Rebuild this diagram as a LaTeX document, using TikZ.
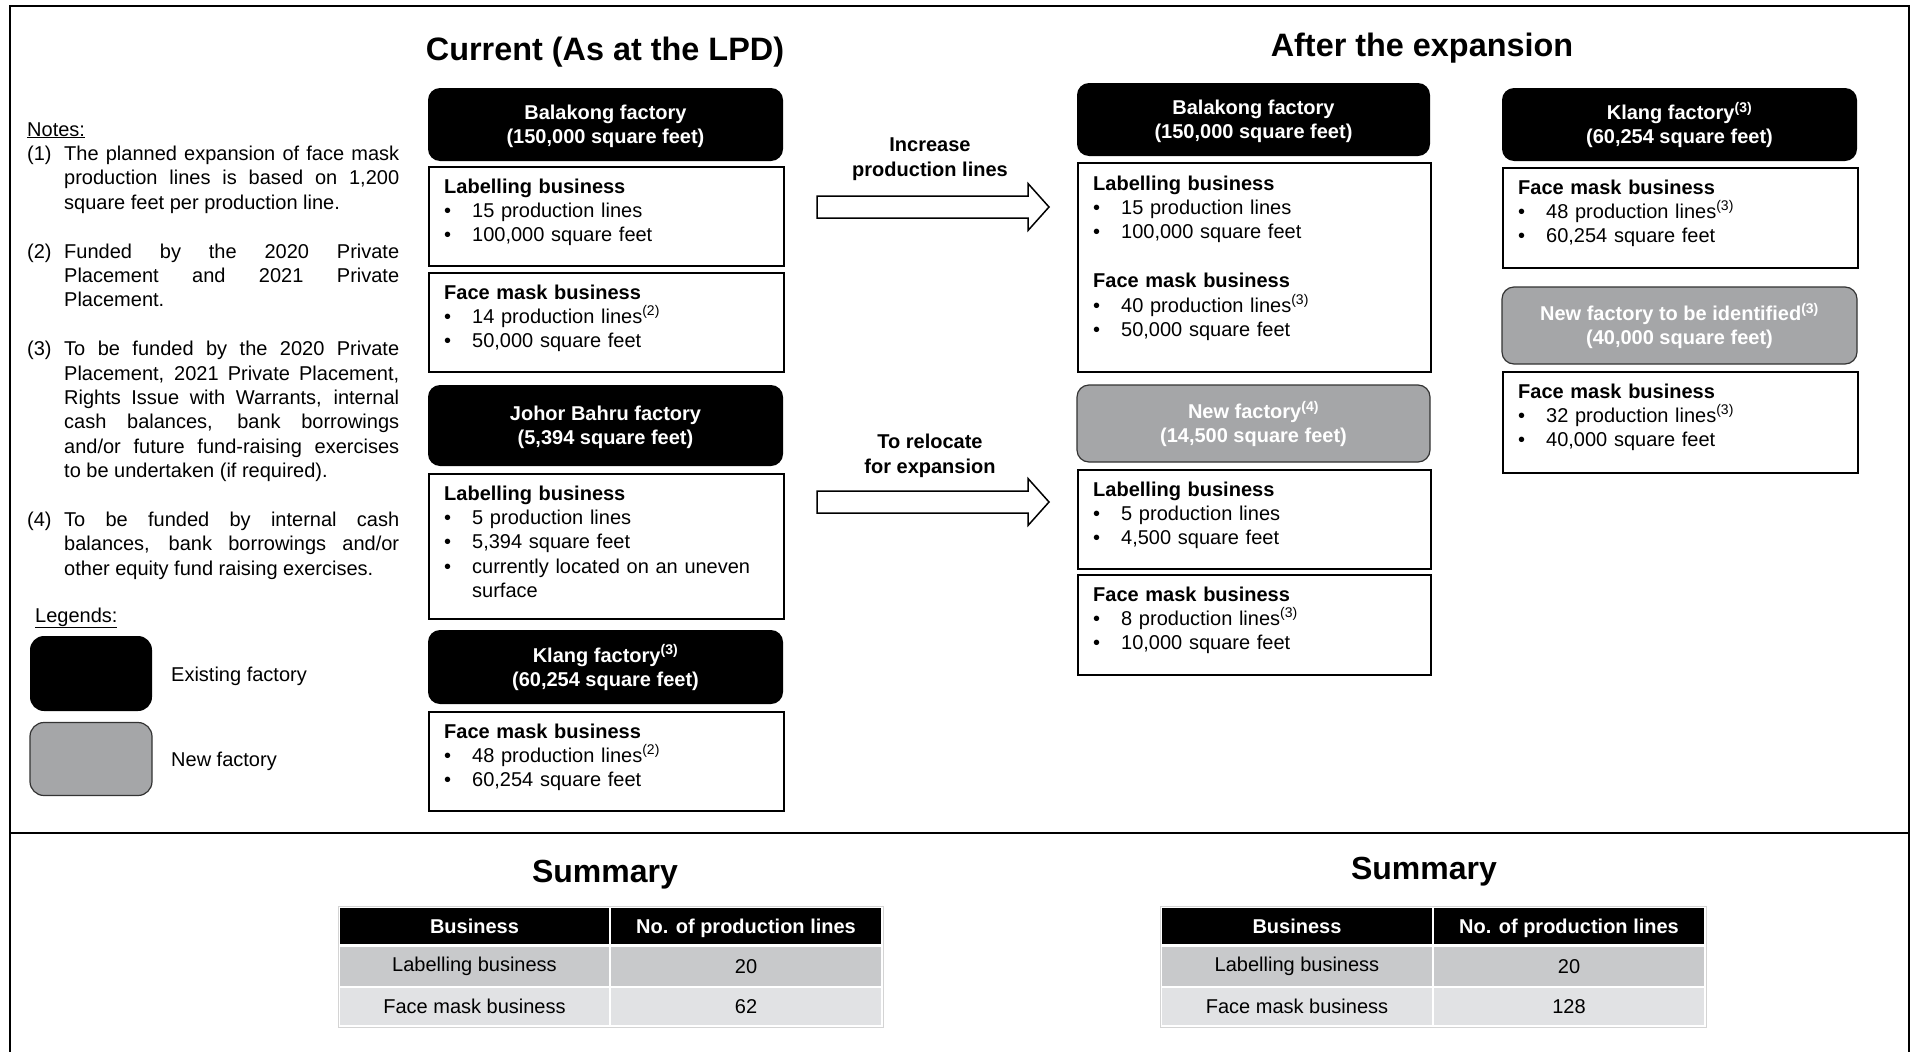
\documentclass[tikz,border=0pt]{standalone}
\usepackage{fontspec}
\setmainfont{Liberation Sans}
\usetikzlibrary{calc}
\definecolor{newgray}{HTML}{A5A6A8}
\definecolor{rowA}{HTML}{C8C9CB}
\definecolor{rowB}{HTML}{E1E2E4}
\definecolor{tblborder}{HTML}{D4D4D4}
\newcommand{\bl}{\makebox[28pt][l]{\textbullet}}
\newcommand{\sups}[1]{\textsuperscript{(#1)}}
\begin{document}
\begin{tikzpicture}[x=1pt,y=-1pt,
  txt/.style={font=\fontsize{20}{24.4}\selectfont, inner sep=0pt},
  hdr/.style={font=\fontsize{20}{24.4}\selectfont\bfseries, inner sep=0pt, fill=black, text=white, rounded corners=12pt, align=center, text height=39.4pt, text depth=0.5pt},
  newhdr/.style={hdr, fill=newgray, draw=black!80, line width=1.2pt},
  bodybox/.style={draw=black, line width=1.8pt, anchor=north west, inner sep=0pt, fill=white},
  bodytext/.style={txt, anchor=base west, text width=330pt, align=left},
  notetext/.style={txt, anchor=base west, text width=335pt, align=justify},
  title/.style={font=\fontsize{32.4}{40}\selectfont\bfseries, inner sep=0pt},
  stitle/.style={font=\fontsize{32}{38}\selectfont\bfseries, inner sep=0pt},
  lbl/.style={font=\fontsize{20}{24.4}\selectfont\bfseries, inner sep=0pt, align=center},
  blockarrow/.style={draw=black, line width=1.5pt, fill=white, line join=miter},
  legbox/.style={rounded corners=14pt, minimum width=122pt, inner sep=0pt},
  cell/.style={font=\fontsize{20}{24.4}\selectfont, inner sep=0pt},
  hcell/.style={cell, font=\fontsize{20}{24.4}\selectfont\bfseries, fill=black, text=white, minimum height=36pt, text height=16pt, text depth=1.6pt},
  acell/.style={cell, fill=rowA, minimum height=39pt},
  bcell/.style={cell, fill=rowB, minimum height=37pt}
]
\useasboundingbox (0,0) rectangle (1912,1052);
\fill[white] (0,0) rectangle (1912,1052);

% frame
\draw[line width=2.5pt] (10,1052) -- (10,6) -- (1909,6) -- (1909,1052);
\draw[line width=1.5pt] (10,833) -- (1909,833);

% titles
\node[title] (t1) at (605,52.5) {Current (As at the LPD)};
\node[title] (t2) at (1422,48.5) {After the expansion};

% notes
\node[txt, anchor=base west] (notes) at (27,136) {\underline{Notes:}};
\node[txt, anchor=base west] (n1l) at (27,160.4) {(1)};
\node[notetext] (n1) at (64,160.4) {The planned expansion of face mask\linebreak production lines is based on 1,200\linebreak square feet per production line.};
\node[txt, anchor=base west] (n2l) at (27,258) {(2)};
\node[notetext] (n2) at (64,258) {Funded by the 2020 Private\linebreak Placement and 2021 Private\linebreak Placement.};
\node[txt, anchor=base west] (n3l) at (27,355.6) {(3)};
\node[notetext] (n3) at (64,355.6) {To be funded by the 2020 Private\linebreak Placement, 2021 Private Placement,\linebreak Rights Issue with Warrants, internal\linebreak cash balances, bank borrowings\linebreak and/or future fund-raising exercises\linebreak to be undertaken (if required).};
\node[txt, anchor=base west] (n4l) at (27,526.4) {(4)};
\node[notetext] (n4) at (64,526.4) {To be funded by internal cash\linebreak balances, bank borrowings and/or\linebreak other equity fund raising exercises.};

% legends
\node[txt, anchor=base west] (leg) at (35,622) {\underline{Legends:}};
\node[legbox, fill=black, minimum height=75pt] (lg1) at (91,673.5) {};
\node[legbox, fill=newgray, draw=black!80, line width=1.2pt, minimum height=73pt] (lg2) at (91,759) {};
\node[txt, anchor=west] (lg1t) at (171,676) {Existing factory};
\node[txt, anchor=west] (lg2t) at (171,761) {New factory};

% current column
\node[hdr, minimum width=355pt, minimum height=73pt] (hA) at (605.5,124.5) {Balakong factory\\(150,000 square feet)};
\node[bodybox, minimum width=355pt, minimum height=99pt] (bA1) at (428,166) {};
\node[bodytext] (bA1t) at ($(bA1.north west)+(16,27)$) {\textbf{Labelling business}\\\bl 15 production lines\\\bl 100,000 square feet};
\node[bodybox, minimum width=355pt, minimum height=99pt] (bA2) at (428,272) {};
\node[bodytext] (bA2t) at ($(bA2.north west)+(16,27)$) {\textbf{Face mask business}\\\bl 14 production lines\sups{2}\\\bl 50,000 square feet};

\node[hdr, minimum width=355pt, minimum height=81pt] (hB) at (605.5,425.5) {Johor Bahru factory\\(5,394 square feet)};
\node[bodybox, minimum width=355pt, minimum height=145pt] (bB1) at (428,473) {};
\node[bodytext] (bB1t) at ($(bB1.north west)+(16,27)$) {\textbf{Labelling business}\\\bl 5 production lines\\\bl 5,394 square feet\\\bl currently located on an uneven\\\hspace*{28pt}surface};

\node[hdr, minimum width=355pt, minimum height=74pt] (hC) at (605.5,667) {Klang factory\sups{3}\\(60,254 square feet)};
\node[bodybox, minimum width=355pt, minimum height=99pt] (bC1) at (428,711) {};
\node[bodytext] (bC1t) at ($(bC1.north west)+(16,27)$) {\textbf{Face mask business}\\\bl 48 production lines\sups{2}\\\bl 60,254 square feet};

% after column (middle)
\node[hdr, minimum width=353pt, minimum height=73pt] (hD) at (1253.5,119.5) {Balakong factory\\(150,000 square feet)};
\node[bodybox, minimum width=353pt, minimum height=209pt] (bD1) at (1077,162) {};
\node[bodytext] (bD1t) at ($(bD1.north west)+(16,28)$) {\textbf{Labelling business}\\\bl 15 production lines\\\bl 100,000 square feet\\\mbox{}\\\textbf{Face mask business}\\\bl 40 production lines\sups{3}\\\bl 50,000 square feet};

\node[newhdr, minimum width=353pt, minimum height=77pt] (hE) at (1253.5,423.5) {New factory\sups{4}\\(14,500 square feet)};
\node[bodybox, minimum width=353pt, minimum height=99pt] (bE1) at (1077,469) {};
\node[bodytext] (bE1t) at ($(bE1.north west)+(16,27)$) {\textbf{Labelling business}\\\bl 5 production lines\\\bl 4,500 square feet};
\node[bodybox, minimum width=353pt, minimum height=100pt] (bE2) at (1077,574) {};
\node[bodytext] (bE2t) at ($(bE2.north west)+(16,27)$) {\textbf{Face mask business}\\\bl 8 production lines\sups{3}\\\bl 10,000 square feet};

% after column (right)
\node[hdr, minimum width=355pt, minimum height=73pt] (hF) at (1679.5,124.5) {Klang factory\sups{3}\\(60,254 square feet)};
\node[bodybox, minimum width=355pt, minimum height=100pt] (bF1) at (1502,167) {};
\node[bodytext] (bF1t) at ($(bF1.north west)+(16,27)$) {\textbf{Face mask business}\\\bl 48 production lines\sups{3}\\\bl 60,254 square feet};
\node[newhdr, minimum width=355pt, minimum height=77pt] (hG) at (1679.5,325.5) {New factory to be identified\sups{3}\\(40,000 square feet)};
\node[bodybox, minimum width=355pt, minimum height=101pt] (bG1) at (1502,371) {};
\node[bodytext] (bG1t) at ($(bG1.north west)+(16,27)$) {\textbf{Face mask business}\\\bl 32 production lines\sups{3}\\\bl 40,000 square feet};

% block arrows
\coordinate (a1) at (817,207);
\coordinate (a2) at (817,502);
\draw[blockarrow] ($(a1)+(0,-11)$) -- ($(a1)+(211,-11)$) -- ($(a1)+(211,-23.5)$) -- ($(a1)+(232,0)$) -- ($(a1)+(211,23.5)$) -- ($(a1)+(211,11)$) -- ($(a1)+(0,11)$) -- cycle;
\draw[blockarrow] ($(a2)+(0,-11)$) -- ($(a2)+(211,-11)$) -- ($(a2)+(211,-23.5)$) -- ($(a2)+(232,0)$) -- ($(a2)+(211,23.5)$) -- ($(a2)+(211,11)$) -- ($(a2)+(0,11)$) -- cycle;
\node[lbl] (l1) at (930,159) {Increase\\production lines};
\node[lbl] (l2) at (930,456) {To relocate\\for expansion};

% summary left
\node[stitle] (s1) at (605,875) {Summary};
\draw[tblborder, line width=1pt] (338,906) rectangle (883,1027);
\node[hcell, minimum width=269pt] (L11) at (474.5,926) {Business};
\node[hcell, minimum width=270pt] (L12) at (746,926) {No. of production lines};
\node[acell, minimum width=269pt] (L21) at (474.5,966.5) {Labelling business};
\node[acell, minimum width=270pt] (L22) at (746,966.5) {20};
\node[bcell, minimum width=269pt] (L31) at (474.5,1006.5) {Face mask business};
\node[bcell, minimum width=270pt] (L32) at (746,1006.5) {62};

% summary right
\node[stitle] (s2) at (1424,872) {Summary};
\draw[tblborder, line width=1pt] (1160,906) rectangle (1706,1027);
\node[hcell, minimum width=270pt] (R11) at (1297,926) {Business};
\node[hcell, minimum width=270pt] (R12) at (1569,926) {No. of production lines};
\node[acell, minimum width=270pt] (R21) at (1297,966.5) {Labelling business};
\node[acell, minimum width=270pt] (R22) at (1569,966.5) {20};
\node[bcell, minimum width=270pt] (R31) at (1297,1006.5) {Face mask business};
\node[bcell, minimum width=270pt] (R32) at (1569,1006.5) {128};
\end{tikzpicture}
\end{document}
